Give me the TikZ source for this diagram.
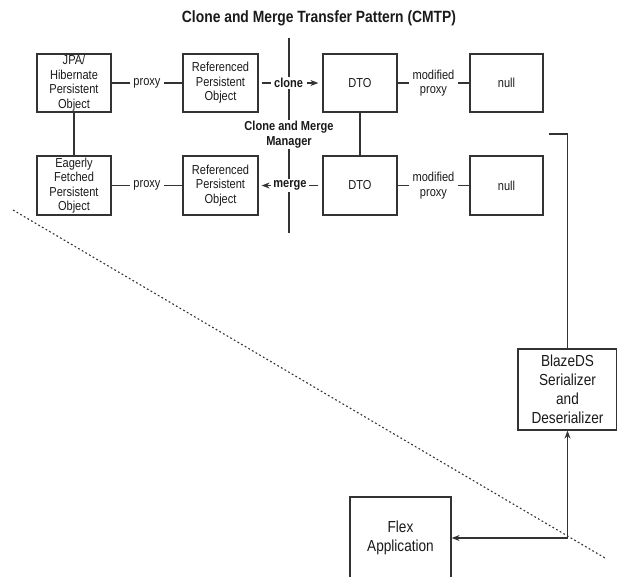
\documentclass[tikz,border=0pt]{standalone}
\usepackage{fontspec}
\setmainfont{Liberation Sans}[FakeStretch=0.85]
\usetikzlibrary{arrows.meta}
\definecolor{ln}{HTML}{333333}
\definecolor{tx}{HTML}{1A1A1A}
\begin{document}
\begin{tikzpicture}[x=1pt,y=-1pt,
  box/.style={draw=ln, line width=1.2pt, minimum width=74pt, minimum height=58pt, inner sep=0pt, align=center, text=tx, font=\fontsize{13}{14.5}\selectfont},
  bigbox/.style={box, font=\fontsize{16}{19}\selectfont},
  lbl/.style={fill=white, inner xsep=3.5pt, inner ysep=1.5pt, text=tx, font=\fontsize{13}{14.5}\selectfont, align=center},
  blbl/.style={lbl, font=\bfseries\fontsize{13}{14.5}\selectfont},
  conn/.style={draw=ln, line width=1.3pt},
  arr/.style={conn, -{Stealth[length=8pt,width=6pt]}}
]
\useasboundingbox (0,0) rectangle (617,576);

\node[font=\bfseries\fontsize{16.3}{19}\selectfont, text=tx] (title) at (319,18) {Clone and Merge Transfer Pattern (CMTP)};

% central vertical line
\coordinate (vt) at (289,38);
\coordinate (vb) at (289,233);
\draw[conn] (vt) -- (vb);

% boxes
\node[box] (jpa) at (74,83) {JPA/\\Hibernate\\Persistent\\Object};
\node[box, minimum width=75pt] (ref1) at (220.5,83) {Referenced\\Persistent\\Object};
\node[box] (dto1) at (360,83) {DTO};
\node[box, minimum width=73pt] (null1) at (506.5,83) {null};

\node[box, minimum height=59pt] (eag) at (74,185.5) {Eagerly\\Fetched\\Persistent\\Object};
\node[box, minimum width=75pt, minimum height=59pt] (ref2) at (220.5,185.5) {Referenced\\Persistent\\Object};
\node[box, minimum height=59pt] (dto2) at (360,185.5) {DTO};
\node[box, minimum width=73pt, minimum height=59pt] (null2) at (506.5,185.5) {null};

\node[bigbox, minimum width=99pt, minimum height=81pt] (blaze) at (567.5,389.5) {BlazeDS\\Serializer\\and\\Deserializer};
\node[bigbox, minimum width=101pt, minimum height=82pt] (flex) at (400.5,538) {Flex\\Application};

% manager label
\node[blbl] (mgr) at (289,134.5) {Clone and Merge\\Manager};

% connectors
\draw[conn] (jpa) -- (eag);
\draw[conn] (dto1) -- (dto2);
\draw[conn] (jpa) -- (ref1) node[lbl, midway] (p1) {proxy};
\draw[conn] (eag) -- (ref2) node[lbl, midway] (p2) {proxy};
\draw[arr, shorten <=3pt, shorten >=4pt] (ref1) -- (dto1) node[blbl, pos=0.47] (clone) {clone};
\draw[arr, shorten <=4pt, shorten >=3pt] (dto2) -- (ref2) node[blbl, pos=0.51, inner xsep=2.5pt] (merge) {merge};
\draw[conn] (dto1) -- (null1) node[lbl, midway, inner ysep=0pt] (m1) {modified\\proxy};
\draw[conn] (dto2) -- (null2) node[lbl, midway, inner ysep=0pt] (m2) {modified\\proxy};

\coordinate (c1) at (549,134);
\draw[conn] (c1) -| (blaze.north);

\coordinate (j) at (567.5,538);
\draw[arr] (j) -- (blaze.south);
\draw[arr] (j) -- (flex.east);

% dotted separator
\coordinate (d1) at (13,210);
\coordinate (d2) at (605,558);
\draw[ln, line width=1.1pt, dash pattern=on 1.8pt off 2.4pt] (d1) -- (d2);
\end{tikzpicture}
\end{document}
